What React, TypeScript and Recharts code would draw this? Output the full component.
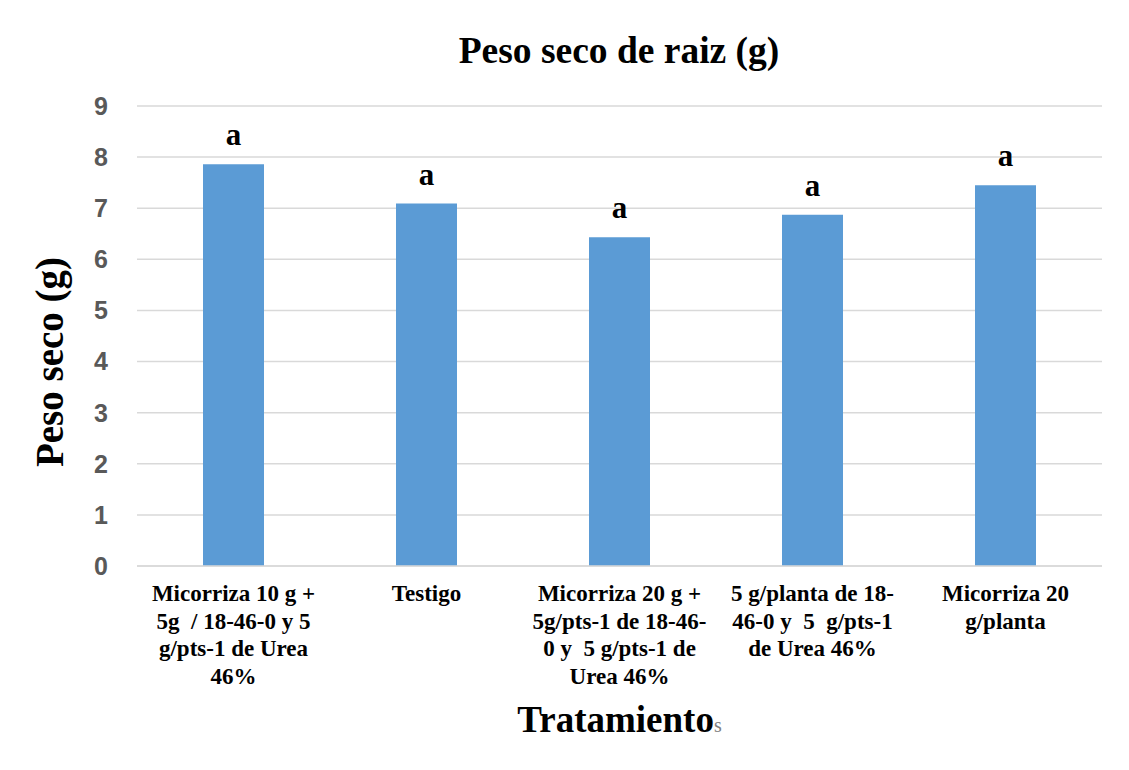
import React from "react";
import { Bar, BarChart, CartesianGrid, LabelList, XAxis, YAxis } from "recharts";

const TREATMENTS = ["T1", "T2", "T3", "T4", "T5"];
const TICK_LINES = [
  ["Micorriza 10 g +", "5g  / 18-46-0 y 5", "g/pts-1 de Urea", "46%"],
  ["Testigo"],
  ["Micorriza 20 g +", "5g/pts-1 de 18-46-", "0 y  5 g/pts-1 de", "Urea 46%"],
  ["5 g/planta de 18-", "46-0 y  5  g/pts-1", "de Urea 46%"],
  ["Micorriza 20", "g/planta"],
];
const PESO_SECO = [7.86, 7.09, 6.43, 6.87, 7.45];
const LETTERS = ["a", "a", "a", "a", "a"];
const Y_TICKS = [0, 1, 2, 3, 4, 5, 6, 7, 8, 9];

const SERIF = "'Liberation Serif', 'Times New Roman', serif";
const SANS = "'Liberation Sans', Arial, sans-serif";

const data = TREATMENTS.map((t, i) => ({
  name: t,
  value: PESO_SECO[i],
  letter: LETTERS[i],
}));

function TreatmentTick(props: any) {
  const { x, y, payload } = props;
  const idx = TREATMENTS.indexOf(payload.value);
  const lines = TICK_LINES[idx] || [];
  return (
    <text
      x={x}
      y={y + 35}
      textAnchor="middle"
      fontFamily={SERIF}
      fontWeight="bold"
      fontSize={23}
      fill="#000"
      style={{ whiteSpace: "pre" }}
    >
      {lines.map((line, i) => (
        <tspan key={i} x={x} dy={i === 0 ? 0 : 27.6}>
          {line}
        </tspan>
      ))}
    </text>
  );
}

function LetterLabel(props: any) {
  const { x, y, width, value } = props;
  return (
    <text
      x={x + width / 2}
      y={y - 19}
      textAnchor="middle"
      fontFamily={SERIF}
      fontWeight="bold"
      fontSize={31}
      fill="#000"
    >
      {value}
    </text>
  );
}

export default function App() {
  return (
    <div
      style={{
        position: "relative",
        width: 1121,
        height: 762,
        marginLeft: -1,
        marginTop: -1,
        borderTop: "1px solid #d9d9d9",
        borderLeft: "1px solid #d9d9d9",
        background: "#fff",
      }}
    >
      <BarChart
        width={1121}
        height={762}
        data={data}
        margin={{ top: 98, right: 27, bottom: 54, left: 49 }}
        barSize={61}
      >
        <CartesianGrid vertical={false} stroke="#d9d9d9" strokeWidth={1.5} />
        <XAxis
          dataKey="name"
          height={150}
          axisLine={{ stroke: "#d9d9d9", strokeWidth: 1.5 }}
          tickLine={false}
          tickSize={0}
          tickMargin={0}
          interval={0}
          tick={<TreatmentTick />}
        />
        <YAxis
          width={80}
          domain={[0, 9]}
          ticks={Y_TICKS}
          axisLine={false}
          tickLine={false}
          tickSize={0}
          tickMargin={29}
          tick={{ fontFamily: SANS, fontWeight: "bold", fontSize: 25, fill: "#595959" }}
        />
        <Bar dataKey="value" fill="#5b9bd5" isAnimationActive={false}>
          <LabelList dataKey="letter" content={<LetterLabel />} />
        </Bar>
      </BarChart>
      <svg
        width={1121}
        height={762}
        style={{ position: "absolute", left: 0, top: 0, pointerEvents: "none" }}
      >
        <text
          x={611}
          y={55}
          textAnchor="middle"
          fontFamily={SERIF}
          fontWeight="bold"
          fontSize={37.5}
          fill="#000"
        >
          Peso seco de raiz (g)
        </text>
        <text
          transform="translate(55, 354) rotate(-90)"
          textAnchor="middle"
          fontFamily={SERIF}
          fontWeight="bold"
          fontSize={39}
          fill="#000"
        >
          Peso seco (g)
        </text>
        <text
          x={611.5}
          y={724}
          textAnchor="middle"
          fontFamily={SERIF}
          fontWeight="bold"
          fontSize={37}
          fill="#000"
        >
          Tratamiento
          <tspan fontSize={20} fontWeight="normal" fill="#7f7f7f">
            s
          </tspan>
        </text>
      </svg>
    </div>
  );
}
